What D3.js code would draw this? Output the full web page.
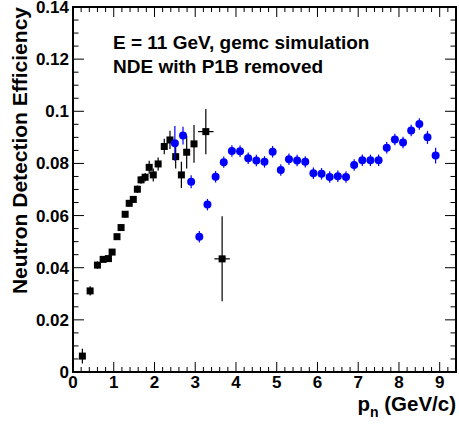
<!DOCTYPE html>
<html><head><meta charset="utf-8">
<script src="https://cdn.jsdelivr.net/npm/d3@7"></script>
<style>
body{margin:0;background:#fff}
svg{display:block}
text{font-family:"Liberation Sans",Arial,Helvetica,sans-serif;font-weight:bold;fill:#000}
</style>
</head><body>
<svg id="chart" width="459" height="425"></svg>
<script>
// ---- data ----
const blackX    = [0.23, 0.42, 0.60, 0.74, 0.87, 0.96, 1.08, 1.18, 1.28, 1.38, 1.48, 1.58, 1.67, 1.77, 1.87, 1.97, 2.09, 2.24, 2.38, 2.52, 2.66, 2.79, 2.97, 3.26, 3.66];
const blackY    = [0.0061, 0.0311, 0.0410, 0.0432, 0.0435, 0.0460, 0.0519, 0.0554, 0.0605, 0.0647, 0.0662, 0.0701, 0.0737, 0.0747, 0.0785, 0.0756, 0.0798, 0.0865, 0.0890, 0.0826, 0.0756, 0.0843, 0.0875, 0.0922, 0.0434];
const blackErrY = [0.0028, 0.0018, 0.0014, 0.0010, 0.0010, 0.0011, 0.0011, 0.0012, 0.0012, 0.0013, 0.0013, 0.0014, 0.0015, 0.0016, 0.0025, 0.0025, 0.0025, 0.0030, 0.0035, 0.0045, 0.0050, 0.0062, 0.0072, 0.0087, 0.0163];
const blackErrX = [0.05, 0.05, 0.05, 0.05, 0.05, 0.05, 0.05, 0.05, 0.05, 0.05, 0.05, 0.05, 0.05, 0.05, 0.05, 0.05, 0.05, 0.05, 0.05, 0.05, 0.05, 0.05, 0.05, 0.19, 0.19];

const blueX    = [2.5, 2.7, 2.9, 3.1, 3.3, 3.5, 3.7, 3.9, 4.1, 4.3, 4.5, 4.7, 4.9, 5.1, 5.3, 5.5, 5.7, 5.9, 6.1, 6.3, 6.5, 6.7, 6.9, 7.1, 7.3, 7.5, 7.7, 7.9, 8.1, 8.3, 8.5, 8.7, 8.9];
const blueY    = [0.0877, 0.0907, 0.0730, 0.0519, 0.0642, 0.0749, 0.0805, 0.0848, 0.0847, 0.0820, 0.0811, 0.0806, 0.0845, 0.0775, 0.0816, 0.0811, 0.0806, 0.0762, 0.0760, 0.0748, 0.0751, 0.0748, 0.0794, 0.0812, 0.0812, 0.0812, 0.0860, 0.0892, 0.0880, 0.0926, 0.0951, 0.0900, 0.0830];
const blueErrY = [0.0067, 0.0034, 0.0025, 0.0022, 0.0022, 0.0022, 0.0022, 0.0022, 0.0022, 0.0022, 0.0022, 0.0022, 0.0022, 0.0022, 0.0022, 0.0022, 0.0022, 0.0022, 0.0022, 0.0022, 0.0022, 0.0022, 0.0022, 0.0022, 0.0022, 0.0022, 0.0022, 0.0022, 0.0022, 0.0022, 0.0022, 0.0025, 0.0030];

const xTickValues = [0, 1, 2, 3, 4, 5, 6, 7, 8, 9];
const xTickLabels = ["0", "1", "2", "3", "4", "5", "6", "7", "8", "9"];
const yTickValues = [0, 0.02, 0.04, 0.06, 0.08, 0.1, 0.12, 0.14];
const yTickLabels = ["0", "0.02", "0.04", "0.06", "0.08", "0.1", "0.12", "0.14"];
const annotations = ["E = 11 GeV, gemc simulation", "NDE with P1B removed"];
const yTitle = "Neutron Detection Efficiency";

// ---- layout ----
const L = 73, R = 456, T = 7, B = 372;
const svg = d3.select("#chart");
const x = d3.scaleLinear().domain([0, 9.4]).range([L, R]);
const y = d3.scaleLinear().domain([0, 0.14]).range([B, T]);

// minor tick values
const xMinor = d3.range(0, 9.4001, 0.2).map(v => +v.toFixed(2)).filter(v => Math.abs(v - Math.round(v)) > 1e-6 && x(v) < R - 1);
const yMinor = d3.range(0, 0.14001, 0.005).map(v => +v.toFixed(3)).filter(v => Math.abs(v / 0.02 - Math.round(v / 0.02)) > 1e-6);

const g = svg.append("g");

// ticks (all inward)
function ticksX(vals, len) {
  g.append("g").selectAll("line.b").data(vals).join("line")
    .attr("x1", d => x(d)).attr("x2", d => x(d)).attr("y1", B).attr("y2", B - len)
    .attr("stroke", "#000").attr("stroke-width", 1);
  g.append("g").selectAll("line.t").data(vals).join("line")
    .attr("x1", d => x(d)).attr("x2", d => x(d)).attr("y1", T).attr("y2", T + len)
    .attr("stroke", "#000").attr("stroke-width", 1);
}
function ticksY(vals, len) {
  g.append("g").selectAll("line.l").data(vals).join("line")
    .attr("x1", L).attr("x2", L + len).attr("y1", d => y(d)).attr("y2", d => y(d))
    .attr("stroke", "#000").attr("stroke-width", 1);
  g.append("g").selectAll("line.r").data(vals).join("line")
    .attr("x1", R).attr("x2", R - len).attr("y1", d => y(d)).attr("y2", d => y(d))
    .attr("stroke", "#000").attr("stroke-width", 1);
}
ticksX(xTickValues, 10);
ticksX(xMinor, 5);
ticksY(yTickValues, 11);
ticksY(yMinor, 5.5);

// frame
g.append("rect").attr("x", L).attr("y", T).attr("width", R - L).attr("height", B - T)
  .attr("fill", "none").attr("stroke", "#000").attr("stroke-width", 2);

// tick labels
g.append("g").selectAll("text").data(xTickValues).join("text")
  .attr("x", d => x(d)).attr("y", 388).attr("text-anchor", "middle")
  .style("font-size", "17px").text((d, i) => xTickLabels[i]);
g.append("g").selectAll("text").data(yTickValues).join("text")
  .attr("x", 69).attr("y", d => y(d) + 6).attr("text-anchor", "end")
  .style("font-size", "17px").text((d, i) => yTickLabels[i]);

// axis titles
const xt = g.append("text").attr("x", R).attr("y", 411).attr("text-anchor", "end").style("font-size", "20.5px");
xt.append("tspan").text("p");
xt.append("tspan").attr("dy", 6).style("font-size", "14px").text("n");
xt.append("tspan").attr("dy", -6).text(" (GeV/c)");

g.append("text").attr("transform", `translate(27,${T}) rotate(-90)`)
  .attr("text-anchor", "end").style("font-size", "21px").text(yTitle);

// annotations
g.append("g").selectAll("text").data(annotations).join("text")
  .attr("x", 113).attr("y", (d, i) => 49 + i * 24)
  .style("font-size", "19px").text(d => d);

// black series: error bars + squares
const blk = blackX.map((v, i) => ({x: v, y: blackY[i], ey: blackErrY[i], ex: blackErrX[i]}));
const gb = g.append("g");
gb.selectAll("line.v").data(blk).join("line")
  .attr("x1", d => x(d.x)).attr("x2", d => x(d.x))
  .attr("y1", d => y(d.y - d.ey)).attr("y2", d => y(d.y + d.ey))
  .attr("stroke", "#000").attr("stroke-width", 1.2);
gb.selectAll("line.h").data(blk).join("line")
  .attr("x1", d => x(d.x - d.ex)).attr("x2", d => x(d.x + d.ex))
  .attr("y1", d => y(d.y)).attr("y2", d => y(d.y))
  .attr("stroke", "#000").attr("stroke-width", 1.2);
gb.selectAll("rect").data(blk).join("rect")
  .attr("x", d => x(d.x) - 3.5).attr("y", d => y(d.y) - 3.5)
  .attr("width", 7).attr("height", 7).attr("fill", "#000");

// blue series
const blu = blueX.map((v, i) => ({x: v, y: blueY[i], ey: blueErrY[i]}));
const gu = g.append("g");
gu.selectAll("line").data(blu).join("line")
  .attr("x1", d => x(d.x)).attr("x2", d => x(d.x))
  .attr("y1", d => y(d.y - d.ey)).attr("y2", d => y(d.y + d.ey))
  .attr("stroke", "#0000ff").attr("stroke-width", 1.2);
gu.selectAll("circle").data(blu).join("circle")
  .attr("cx", d => x(d.x)).attr("cy", d => y(d.y)).attr("r", 4)
  .attr("fill", "#0000ff");
</script>
</body></html>
